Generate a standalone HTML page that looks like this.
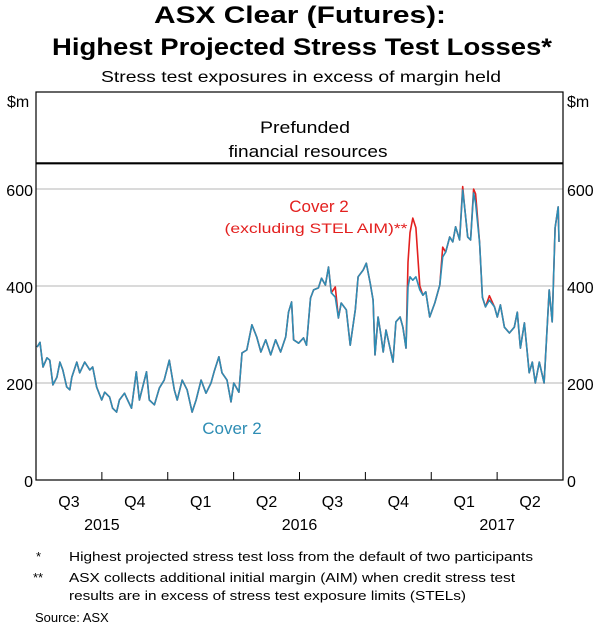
<!DOCTYPE html>
<html><head><meta charset="utf-8"><style>
html,body{margin:0;padding:0;background:#fff;}
svg{display:block;font-family:"Liberation Sans",Arial,sans-serif;}
</style></head><body>
<svg id="chart" width="600" height="627" viewBox="0 0 600 627">
<text x="300" y="23" text-anchor="middle" font-size="24" font-weight="bold" textLength="292" lengthAdjust="spacingAndGlyphs">ASX Clear (Futures):</text>
<text x="302" y="55" text-anchor="middle" font-size="24" font-weight="bold" textLength="500" lengthAdjust="spacingAndGlyphs">Highest Projected Stress Test Losses*</text>
<text x="301" y="82" text-anchor="middle" font-size="16" textLength="400" lengthAdjust="spacingAndGlyphs">Stress test exposures in excess of margin held</text>
<text x="7" y="107" font-size="16">$m</text>
<text x="567" y="107" font-size="16">$m</text>
<g id="grid"></g>
<g id="series"></g>
<rect x="36" y="92" width="527" height="388" fill="none" stroke="#000" stroke-width="1.2"/>
<text x="305" y="133" text-anchor="middle" font-size="17" textLength="90" lengthAdjust="spacingAndGlyphs">Prefunded</text>
<text x="308" y="157" text-anchor="middle" font-size="17" textLength="159" lengthAdjust="spacingAndGlyphs">financial resources</text>
<text x="319" y="212" text-anchor="middle" font-size="17" fill="#e3201f">Cover 2</text>
<text x="316" y="233" text-anchor="middle" font-size="14" fill="#e3201f" textLength="183" lengthAdjust="spacingAndGlyphs">(excluding STEL AIM)**</text>
<text x="232" y="434" text-anchor="middle" font-size="17" fill="#2e8db4">Cover 2</text>
<g id="xaxis"></g>
<text x="36" y="561" font-size="13">*</text>
<text x="69" y="561" font-size="13" textLength="464" lengthAdjust="spacingAndGlyphs">Highest projected stress test loss from the default of two participants</text>
<text x="33" y="582" font-size="13">**</text>
<text x="69" y="582" font-size="13" textLength="446" lengthAdjust="spacingAndGlyphs">ASX collects additional initial margin (AIM) when credit stress test</text>
<text x="69" y="600" font-size="13" textLength="397" lengthAdjust="spacingAndGlyphs">results are in excess of stress test exposure limits (STELs)</text>
<text x="35" y="622" font-size="13">Source:   ASX</text>
</svg>
<script>
const yTicks = [0, 200, 400, 600];
const quarterLabels = ["Q3","Q4","Q1","Q2","Q3","Q4","Q1","Q2"];
const yearLabels = ["2015","2016","2017"];
const yearCenters = [3, 12, 21];
const prefundedLevel = 653;
const months = [0.05,0.18,0.32,0.50,0.63,0.77,0.95,1.09,1.22,1.40,1.54,1.63,1.86,1.99,2.22,2.45,2.58,2.76,2.99,3.13,3.35,3.49,3.67,3.80,4.03,4.17,4.35,4.57,4.71,5.03,5.16,5.39,5.62,5.84,6.07,6.30,6.43,6.66,6.88,7.11,7.29,7.52,7.74,7.97,8.11,8.33,8.47,8.70,8.88,9.01,9.24,9.38,9.60,9.83,10.05,10.24,10.46,10.69,10.91,11.14,11.37,11.50,11.64,11.73,11.96,12.18,12.32,12.50,12.64,12.86,13.00,13.18,13.32,13.45,13.63,13.77,13.90,14.13,14.31,14.54,14.67,14.90,15.04,15.22,15.35,15.44,15.58,15.72,15.81,15.94,16.12,16.26,16.39,16.58,16.71,16.85,16.94,17.03,17.16,17.30,17.48,17.62,17.75,17.93,18.16,18.39,18.52,18.66,18.84,18.98,19.11,19.29,19.43,19.52,19.66,19.79,19.93,20.02,20.20,20.33,20.47,20.65,20.88,21.01,21.15,21.33,21.56,21.78,21.92,22.06,22.24,22.46,22.60,22.74,22.92,23.14,23.37,23.51,23.64,23.78,23.82];
const cover2 = [274,284,233,252,247,196,212,243,227,192,186,212,243,221,243,227,233,192,165,181,171,148,140,165,179,165,148,223,165,223,165,155,190,206,247,186,165,206,186,140,165,206,179,200,223,254,221,206,161,200,181,262,268,320,295,264,289,258,289,264,295,346,367,289,282,293,278,375,392,396,416,402,439,386,377,334,365,351,278,351,419,433,447,406,371,258,336,295,264,309,272,243,326,336,315,272,398,419,412,419,392,381,388,336,365,402,460,470,501,491,522,495,598,563,501,495,592,571,489,377,357,371,357,336,361,315,303,315,346,272,324,221,243,200,243,200,392,326,520,563,491];
const cover2ExclAim = [274,284,233,252,247,196,212,243,227,192,186,212,243,221,243,227,233,192,165,181,171,148,140,165,179,165,148,223,165,223,165,155,190,206,247,186,165,206,186,140,165,206,179,200,223,254,221,206,161,200,181,262,268,320,295,264,289,258,289,264,295,346,367,289,282,293,278,375,392,396,416,402,439,386,398,334,365,351,278,351,419,433,447,406,371,258,336,295,264,309,272,243,326,336,315,272,449,510,540,520,400,381,388,336,365,402,480,470,501,491,522,495,605,563,501,495,600,590,489,377,357,380,357,336,361,315,303,315,346,272,324,221,243,200,243,200,392,326,520,563,491];

const NS = "http://www.w3.org/2000/svg";
const X0 = 36, X1 = 563, Y0 = 480, PXV = 97/200;
function xs(m){ return X0 + m * (X1 - X0) / 24; }
function ys(v){ return Y0 - v * PXV; }
function mk(tag, attrs, parent){ const e = document.createElementNS(NS, tag); for (const k in attrs) e.setAttribute(k, attrs[k]); parent.appendChild(e); return e; }

const grid = document.getElementById("grid");
yTicks.forEach(v => {
  if (v > 0) {
    const g = mk("line", {x1: X0, x2: X1, y1: ys(v), y2: ys(v), stroke: "#b5b5b5", "stroke-width": 1}, grid);
    
    
  }
  const l = mk("text", {x: 33, y: ys(v) + 7, "text-anchor": "end", "font-size": 16}, grid);
  l.textContent = v;
  
  
  const r = mk("text", {x: 567, y: ys(v) + 7, "font-size": 16}, grid);
  r.textContent = v;
  
  
});
const pl = mk("line", {x1: X0, x2: X1, y1: ys(prefundedLevel), y2: ys(prefundedLevel), stroke: "#000", "stroke-width": 2.2}, grid);



const ser = document.getElementById("series");
function path(vals){ return vals.map((v,i) => (i ? "L" : "M") + xs(months[i]).toFixed(1) + "," + ys(v).toFixed(1)).join(""); }
const red = mk("path", {d: path(cover2ExclAim), fill: "none", stroke: "#e3201f", "stroke-width": 1.6, "stroke-linejoin": "round"}, ser);


const blue = mk("path", {d: path(cover2), fill: "none", stroke: "#2e8db4", "stroke-width": 1.6, "stroke-linejoin": "round"}, ser);



const xa = document.getElementById("xaxis");
for (let q = 1; q < 8; q++) {
  const t = mk("line", {x1: xs(q*3), x2: xs(q*3), y1: Y0, y2: Y0 - 8, stroke: "#000", "stroke-width": 1}, xa);
  
  
}
quarterLabels.forEach((q, i) => {
  const t = mk("text", {x: xs(i*3 + 1.5), y: 507, "text-anchor": "middle", "font-size": 16}, xa);
  t.textContent = q;
  
  
});
yearLabels.forEach((y, i) => {
  const t = mk("text", {x: xs(yearCenters[i]), y: 530, "text-anchor": "middle", "font-size": 16}, xa);
  t.textContent = y;
  
  
});
</script>
</body></html>
